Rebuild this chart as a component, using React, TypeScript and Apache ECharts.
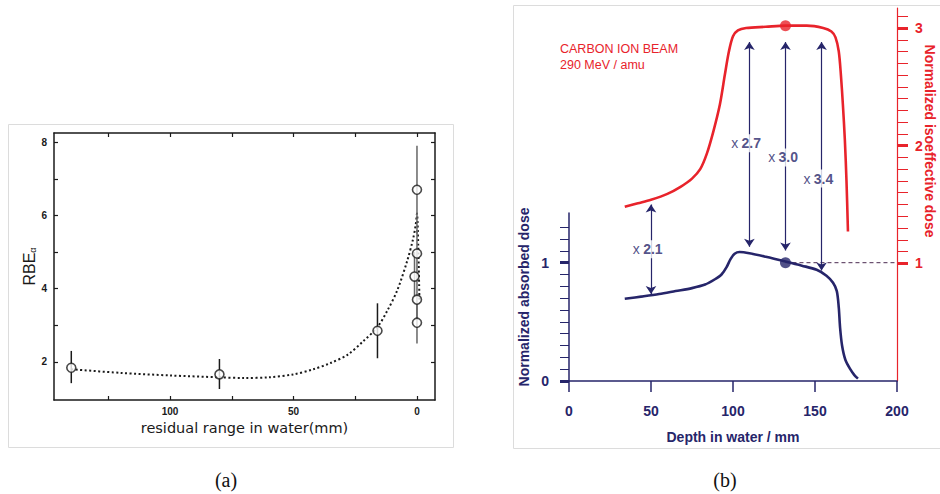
import React, { useEffect, useRef } from "react";
import * as echarts from "echarts";

// ---------- Panel (a): RBE vs residual range ----------
const rangeTicks = [0, 25, 50, 75, 100, 125];
const rangeLabels = [0, 50, 100];
const rbeTicks = [2, 3, 4, 5, 6, 7, 8];
const rbeLabels = [2, 4, 6, 8];

const pointRange = [140, 80, 16, 0, 0, 1, 0, 0];
const pointRbe = [1.84, 1.66, 2.85, 6.7, 4.96, 4.33, 3.7, 3.07];
const errLow = [1.42, 1.26, 2.1, 5.5, 4.3, 3.8, 3.2, 2.5];
const errHigh = [2.3, 2.08, 3.6, 7.9, 5.6, 5.0, 4.3, 3.6];

const fitRange = [140, 120, 100, 80, 70, 60, 50, 42, 35, 28, 22, 16, 12, 8, 4, 1.6, 0.5, 0, -0.5, -1];
const fitRbe = [1.8, 1.7, 1.63, 1.58, 1.56, 1.58, 1.66, 1.8, 1.97, 2.2, 2.55, 2.95, 3.4, 3.95, 4.75, 5.35, 5.75, 6.05, 5.2, 3.7];

// ---------- Panel (b): carbon ion beam depth dose ----------
const depthTicks = [0, 50, 100, 150, 200];
const absTicks = [0, 0.1, 0.2, 0.3, 0.4, 0.5, 0.6, 0.7, 0.8, 0.9, 1, 1.1, 1.2, 1.3];
const absMajor = [0, 1];
const isoTicks = [1, 1.1, 1.2, 1.3, 1.4, 1.5, 1.6, 1.7, 1.8, 1.9, 2, 2.1, 2.2, 2.3, 2.4, 2.5, 2.6, 2.7, 2.8, 2.9, 3, 3.1];
const isoMajor = [1, 2, 3];

const absDepth = [34, 45, 55, 65, 75, 83, 89, 93, 96, 98.5, 101, 104, 110, 120, 132, 142, 151, 157, 161, 163.3, 164.5, 165.3, 166.5, 168.5, 171.5, 174, 176.2];
const absDose = [0.695, 0.715, 0.735, 0.76, 0.785, 0.815, 0.86, 0.9, 0.96, 1.03, 1.075, 1.09, 1.08, 1.05, 1.01, 0.975, 0.94, 0.89, 0.83, 0.76, 0.62, 0.45, 0.3, 0.18, 0.1, 0.05, 0.02];

const isoDepth = [34, 42, 50, 60, 68, 75, 80, 84, 88, 92, 95, 97.5, 100, 103, 108, 120, 132, 145, 155, 160, 162.5, 164.5, 165.8, 167, 168.2, 169.2, 170.1];
const isoDose = [1.48, 1.51, 1.54, 1.59, 1.65, 1.72, 1.8, 1.93, 2.12, 2.35, 2.6, 2.8, 2.93, 2.98, 3.0, 3.01, 3.02, 3.02, 3.0, 2.97, 2.92, 2.8, 2.6, 2.35, 2.05, 1.7, 1.27];

const refDepth = 132;
const refAbs = 1.0;
const refIso = 3.02;
const dashedEndDepth = 200;

const arrowDepth = [50, 110, 132, 154];
const arrowTop = [1.5, 2.88, 2.88, 2.88];
const arrowBottom = [0.74, 1.14, 1.11, 0.94];
const ratioLabels = ["2.1", "2.7", "3.0", "3.4"];
const ratioLabelDepth = [48, 108, 130.5, 152];
const ratioLabelDose = [1.12, 2.02, 1.9, 1.72];

const NAVY = "#26256a";
const RED = "#e8232b";
const INK = "#1a1a1a";

function zip(a: number[], b: number[]) {
  return a.map((v, i) => [v, b[i]]);
}

export default function App() {
  const ref = useRef<HTMLDivElement>(null);

  useEffect(() => {
    if (!ref.current) return;
    const chart = echarts.init(ref.current, undefined, { renderer: "svg" });

    const aTickLabel = { fontFamily: "Liberation Sans", fontWeight: "bold" as const, fontSize: 10, color: INK };
    const bTickLabel = { fontFamily: "Liberation Sans", fontWeight: "bold" as const, fontSize: 14, color: NAVY };

    const option: any = {
      animation: false,
      backgroundColor: "#ffffff",
      grid: [
        { left: 54, top: 133, width: 381, height: 267, outerBoundsMode: "none" },
        { left: 569, top: 213, width: 328, height: 168, outerBoundsMode: "none" },
        { left: 569, top: 8, width: 328, height: 373, outerBoundsMode: "none" },
      ],
      xAxis: [
        {
          gridIndex: 0, type: "value", position: "bottom", inverse: true, min: -7.3, max: 147,
          axisLine: { show: true, onZero: false, lineStyle: { color: INK, width: 1.5 } },
          axisTick: { show: true, inside: true, length: 4, customValues: rangeTicks, lineStyle: { color: INK, width: 1.2 } },
          axisLabel: { show: true, customValues: rangeLabels, margin: 6, ...aTickLabel },
          splitLine: { show: false },
          name: "residual range in water(mm)", nameLocation: "middle", nameGap: 20,
          nameTextStyle: { fontFamily: "DejaVu Sans", fontSize: 14.5, color: INK },
        },
        {
          gridIndex: 0, type: "value", position: "top", inverse: true, min: -7.3, max: 147,
          axisLine: { show: true, onZero: false, lineStyle: { color: INK, width: 1.5 } },
          axisTick: { show: true, inside: true, length: 4, customValues: rangeTicks, lineStyle: { color: INK, width: 1.2 } },
          axisLabel: { show: false },
          splitLine: { show: false },
        },
        {
          gridIndex: 1, type: "value", position: "bottom", min: 0, max: 200, interval: 50,
          axisLine: { show: true, onZero: false, lineStyle: { color: NAVY, width: 1.5 } },
          axisTick: { show: true, inside: false, length: 11, customValues: depthTicks, lineStyle: { color: NAVY, width: 1.5 } },
          axisLabel: { show: true, margin: 23, ...bTickLabel },
          splitLine: { show: false },
          name: "Depth in water / mm", nameLocation: "middle", nameGap: 49,
          nameTextStyle: { fontFamily: "Liberation Sans", fontWeight: "bold", fontSize: 14, color: NAVY },
        },
        {
          gridIndex: 2, type: "value", show: false, min: 0, max: 200,
          axisLine: { onZero: false },
          splitLine: { show: false },
        },
      ],
      yAxis: [
        {
          gridIndex: 0, type: "value", position: "left", min: 0.96, max: 8.25,
          axisLine: { show: true, onZero: false, lineStyle: { color: INK, width: 1.5 } },
          axisTick: { show: true, inside: true, length: 4, customValues: rbeTicks, lineStyle: { color: INK, width: 1.2 } },
          axisLabel: { show: true, customValues: rbeLabels, margin: 7, ...aTickLabel },
          splitLine: { show: false },
          name: "{m|RBE}{s|α}", nameLocation: "middle", nameGap: 17,
          nameTextStyle: {
            rich: {
              m: { fontFamily: "Liberation Sans", fontSize: 16, color: INK },
              s: { fontFamily: "Liberation Sans", fontSize: 9, color: INK, verticalAlign: "bottom", padding: [6, 0, 0, 0] },
            },
          },
        },
        {
          gridIndex: 0, type: "value", position: "right", min: 0.96, max: 8.25,
          axisLine: { show: true, onZero: false, lineStyle: { color: INK, width: 1.5 } },
          axisTick: { show: true, inside: true, length: 4, customValues: rbeTicks, lineStyle: { color: INK, width: 1.2 } },
          axisLabel: { show: false },
          splitLine: { show: false },
        },
        {
          gridIndex: 1, type: "value", position: "left", min: 0, max: 1.42,
          axisLine: { show: true, onZero: false, lineStyle: { color: NAVY, width: 1.5 } },
          axisTick: { show: true, inside: false, length: 9, customValues: absTicks, lineStyle: { color: NAVY, width: 1 } },
          axisLabel: { show: true, customValues: absMajor, margin: 20, ...bTickLabel },
          splitLine: { show: false },
          name: "Normalized absorbed dose", nameLocation: "middle", nameGap: 38,
          nameTextStyle: { fontFamily: "Liberation Sans", fontWeight: "bold", fontSize: 14, color: NAVY },
        },
        {
          gridIndex: 1, type: "value", position: "left", min: 0, max: 1.42,
          axisLine: { show: false, onZero: false },
          axisTick: { show: true, inside: false, length: 9, customValues: absMajor, lineStyle: { color: NAVY, width: 3 } },
          axisLabel: { show: false },
          splitLine: { show: false },
        },
        {
          gridIndex: 2, type: "value", position: "right", min: 0, max: 3.17,
          axisLine: { show: true, onZero: false, lineStyle: { color: RED, width: 1.2 } },
          axisTick: { show: true, inside: false, length: 11, customValues: isoTicks, lineStyle: { color: RED, width: 1 } },
          axisLabel: { show: true, customValues: isoMajor, margin: 18, ...bTickLabel, color: RED },
          splitLine: { show: false },
        },
        {
          gridIndex: 2, type: "value", position: "right", min: 0, max: 3.17,
          axisLine: { show: false, onZero: false },
          axisTick: { show: true, inside: false, length: 11, customValues: isoMajor, lineStyle: { color: RED, width: 3 } },
          axisLabel: { show: false },
          splitLine: { show: false },
        },
      ],
      series: [
        // ---- panel (a)
        {
          type: "line", xAxisIndex: 0, yAxisIndex: 0,
          data: zip(fitRange, fitRbe), showSymbol: false, smooth: 0.3,
          lineStyle: { color: INK, width: 2, type: [2, 2.5] }, z: 2,
        },
        {
          type: "custom", xAxisIndex: 0, yAxisIndex: 0,
          data: pointRange.map((r, i) => [r, errLow[i], errHigh[i]]),
          renderItem: (params: any, api: any) => {
            const x = api.value(0);
            const p1 = api.coord([x, api.value(1)]);
            const p2 = api.coord([x, api.value(2)]);
            return {
              type: "line",
              shape: { x1: p1[0], y1: p1[1], x2: p2[0], y2: p2[1] },
              style: { stroke: x < 5 ? "#666" : INK, lineWidth: 1.5 },
            };
          },
          z: 3,
        },
        {
          type: "scatter", xAxisIndex: 0, yAxisIndex: 0,
          data: zip(pointRange, pointRbe), symbol: "circle", symbolSize: 9,
          itemStyle: { color: "#fff", borderColor: INK, borderWidth: 1.6 }, z: 5,
        },
        // ---- panel (b)
        {
          type: "line", xAxisIndex: 2, yAxisIndex: 2,
          data: zip(absDepth, absDose), showSymbol: false, smooth: 0.3,
          lineStyle: { color: NAVY, width: 2.6 }, z: 3,
        },
        {
          type: "line", xAxisIndex: 2, yAxisIndex: 2,
          data: [[refDepth, refAbs], [dashedEndDepth, refAbs]], showSymbol: false,
          lineStyle: { color: "#4a2a50", width: 1, type: [4, 3] }, z: 2,
        },
        {
          type: "scatter", xAxisIndex: 2, yAxisIndex: 2,
          data: [[refDepth, refAbs]], symbolSize: 11, itemStyle: { color: NAVY }, z: 6,
        },
        {
          type: "line", xAxisIndex: 3, yAxisIndex: 4,
          data: zip(isoDepth, isoDose), showSymbol: false, smooth: 0.3,
          lineStyle: { color: RED, width: 2.6 }, z: 3,
        },
        {
          type: "scatter", xAxisIndex: 3, yAxisIndex: 4,
          data: [[refDepth, refIso]], symbolSize: 11, itemStyle: { color: RED }, z: 6,
        },
        {
          type: "lines", coordinateSystem: "cartesian2d", xAxisIndex: 3, yAxisIndex: 4,
          data: arrowDepth.map((d, i) => ({ coords: [[d, arrowTop[i]], [d, arrowBottom[i]]] })),
          symbol: ["arrow", "arrow"], symbolSize: 8,
          lineStyle: { color: NAVY, width: 1.2, opacity: 1 }, z: 4,
        },
        {
          type: "scatter", xAxisIndex: 3, yAxisIndex: 4,
          data: ratioLabelDepth.map((d, i) => ({ value: [d, ratioLabelDose[i]], name: ratioLabels[i] })),
          symbolSize: 1, itemStyle: { color: "transparent" }, z: 7,
          label: {
            show: true, position: "inside",
            formatter: (p: any) => `{x|x} {n|${p.name}}`,
            backgroundColor: "#fff", padding: [2, 2],
            rich: {
              x: { fontFamily: "Liberation Sans", fontSize: 14, color: NAVY },
              n: { fontFamily: "Liberation Sans", fontSize: 14, fontWeight: "bold", color: NAVY },
            },
          },
        },
      ],
      graphic: [
        { type: "rect", shape: { x: 8.5, y: 124.5, width: 445, height: 323 }, style: { fill: "none", stroke: "#dcdcdc", lineWidth: 1 }, z: 0 },
        { type: "rect", shape: { x: 513.5, y: 5.5, width: 440, height: 443 }, style: { fill: "none", stroke: "#dcdcdc", lineWidth: 1 }, z: 0 },
        { type: "text", x: 226, y: 480, style: { text: "(a)", font: "20px 'Liberation Serif'", fill: "#111", align: "center", verticalAlign: "middle" } },
        { type: "text", x: 725, y: 480, style: { text: "(b)", font: "20px 'Liberation Serif'", fill: "#111", align: "center", verticalAlign: "middle" } },
        { type: "text", x: 560, y: 41, style: { text: "CARBON ION BEAM\n290 MeV / amu", font: "12.5px 'Liberation Sans'", lineHeight: 16, fill: RED, align: "left", verticalAlign: "top" } },
        { type: "text", x: 930, y: 141, rotation: -Math.PI / 2, style: { text: "Normalized isoeffective dose", font: "bold 14px 'Liberation Sans'", fill: RED, align: "center", verticalAlign: "middle" } },
      ],
    };

    chart.setOption(option);
    return () => chart.dispose();
  }, []);

  return <div ref={ref} style={{ position: "fixed", left: 0, top: 0, width: 940, height: 494 }} />;
}
